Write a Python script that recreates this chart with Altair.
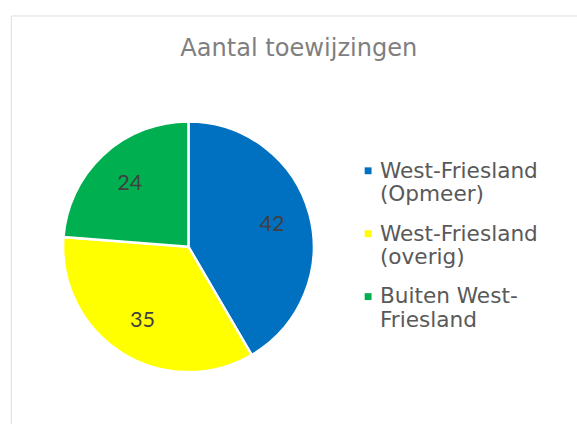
import altair as alt
import pandas as pd

# Data
categories = ["West-Friesland\n(Opmeer)", "West-Friesland\n(overig)", "Buiten West-\nFriesland"]
values = [42, 35, 24]
colors = ["#0070C0", "#FFFF00", "#00B050"]
title_text = "Aantal toewijzingen"

df = pd.DataFrame({
    "categorie": categories,
    "aantal": values,
    "volgorde": list(range(len(categories))),
})

# pie geometry (relative to the plot frame)
CX, CY, R = 180.7, 235.3, 127.5

legend = alt.Legend(
    title=None,
    orient="none",
    legendX=352.5,
    legendY=147,
    labelExpr="split(datum.label, '\\n')",
    labelFont="DejaVu Sans",
    labelFontSize=22,
    labelColor="#595959",
    labelLimit=400,
    labelOffset=1,
    labelBaseline="middle",
    symbolType="square",
    symbolSize=49,
    symbolStrokeWidth=0,
    symbolOpacity=1,
    rowPadding=18,
    padding=0,
)

base = alt.Chart(df).encode(
    theta=alt.Theta("aantal:Q", stack=True),
    order=alt.Order("volgorde:Q"),
)

arcs = base.mark_arc(outerRadius=R, stroke="white", strokeWidth=2.5).encode(
    color=alt.Color("categorie:N", scale=alt.Scale(domain=categories, range=colors), legend=legend),
    x=alt.value(CX),
    y=alt.value(CY),
)

labels = base.mark_text(radius=88, font="Lato", fontSize=22, color="#404040").encode(
    text=alt.Text("aantal:Q"),
    detail="categorie:N",
    x=alt.value(CX),
    y=alt.value(CY),
)

chart = (
    alt.layer(arcs, labels)
    .properties(
        width=576,
        height=420,
        title=alt.Title(
            title_text,
            font="DejaVu Sans",
            fontSize=24.5,
            fontWeight="normal",
            color="#7f7f7f",
            anchor="middle",
            frame="group",
            baseline="alphabetic",
            offset=-66,
            dx=5,
        ),
        autosize=alt.AutoSizeParams(type="none"),
        padding={"left": 11, "top": 12, "right": 0, "bottom": 0},
    )
    .configure_view(stroke="#d9d9d9", strokeWidth=1.5)
    .configure(background="white")
)

chart.save("out.html", embed_options={"renderer": "svg", "actions": False})
